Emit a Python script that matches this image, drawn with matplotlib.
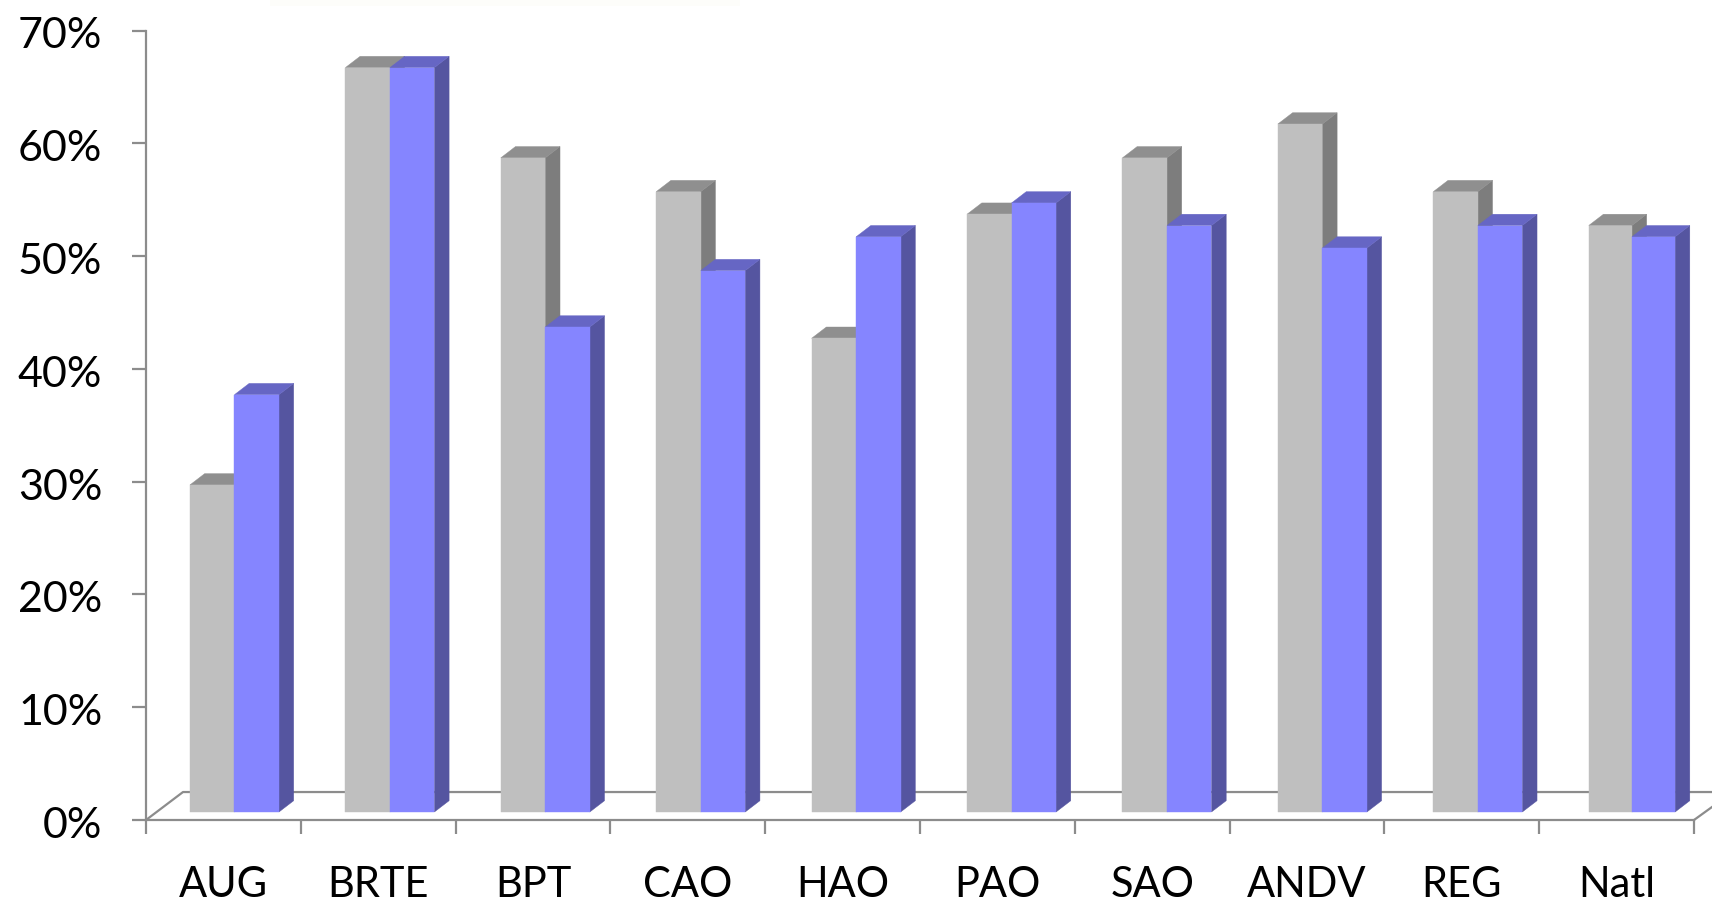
import matplotlib
matplotlib.use("Agg")
import matplotlib.pyplot as plt
from matplotlib.patches import Polygon, Rectangle
from matplotlib.transforms import ScaledTranslation

categories = ["AUG", "BRTE", "BPT", "CAO", "HAO", "PAO", "SAO", "ANDV", "REG", "Natl"]
grey_values = [29, 66, 58, 55, 42, 53, 58, 61, 55, 52]
blue_values = [37, 66, 43, 48, 51, 54, 52, 50, 52, 51]
y_ticks = [0, 10, 20, 30, 40, 50, 60, 70]

W, H = 1712, 901
AXIS_COLOR = "#8c8c8c"

# depth of the fake 3D, in data units
DEPTH_X = 0.095
DEPTH_Y = 1.0
BASE_X = 0.284
BASE_Y = 0.71
GROUP_STEP = 1.004
BAR_W = 0.2875


def draw_bar(ax, x, w, value, front, top, side):
    y0 = BASE_Y
    y1 = BASE_Y + value
    ax.add_patch(Polygon([(x + w, y0), (x + w + DEPTH_X, y0 + DEPTH_Y),
                          (x + w + DEPTH_X, y1 + DEPTH_Y), (x + w, y1)],
                         closed=True, facecolor=side, edgecolor=side, linewidth=0.3,
                         zorder=3, clip_on=False))
    ax.add_patch(Polygon([(x, y1), (x + w, y1),
                          (x + w + DEPTH_X, y1 + DEPTH_Y), (x + DEPTH_X, y1 + DEPTH_Y)],
                         closed=True, facecolor=top, edgecolor=top, linewidth=0.3,
                         zorder=3, clip_on=False))
    ax.bar(x, value, width=w, bottom=y0, align="edge", color=front, edgecolor=front,
           linewidth=0.3, zorder=3, clip_on=False)


plt.rcParams["font.family"] = ["Lato", "DejaVu Sans"]

fig = plt.figure(figsize=(W / 100, H / 100), dpi=100)
ax = fig.add_axes([146 / W, 1 - 820 / H, (1694 - 146) / W, (820 - 30.5) / H])
ax.set_xlim(0, 10)
ax.set_ylim(0, 70)

# floor of the 3D box
ax.plot([0, 0.239, 10.2], [0, 2.48, 2.48], color=AXIS_COLOR, lw=1.6, zorder=1, clip_on=False)
ax.plot([10, 10.116], [0, 1.15], color=AXIS_COLOR, lw=1.6, zorder=1, clip_on=False)

for i in range(len(categories)):
    x = BASE_X + i * GROUP_STEP
    # the last group is a touch narrower in the source
    w = BAR_W if i < len(categories) - 1 else 0.279
    draw_bar(ax, x, w, grey_values[i], "#bfbfbf", "#8f8f8f", "#7d7d7d")
    draw_bar(ax, x + w, w, blue_values[i], "#8585ff", "#6666c4", "#5555a0")

for s in ["top", "right"]:
    ax.spines[s].set_visible(False)
for s in ["left", "bottom"]:
    ax.spines[s].set_color(AXIS_COLOR)
    ax.spines[s].set_linewidth(1.6)

ax.set_yticks(y_ticks)
ax.set_yticklabels([f"{v}%" for v in y_ticks], fontsize=31)
ax.tick_params(axis="y", length=10, width=1.6, color=AXIS_COLOR, pad=21.5)
shift = ScaledTranslation(0, -2.5 / 100, fig.dpi_scale_trans)
for label in ax.get_yticklabels():
    label.set_transform(label.get_transform() + shift)

ax.set_xticks(range(11))
ax.set_xticklabels([])
ax.tick_params(axis="x", which="major", length=10, width=1.6, color=AXIS_COLOR)
ax.set_xticks([i + 0.5 for i in range(10)], minor=True)
ax.set_xticklabels(categories, minor=True, fontsize=30)
ax.tick_params(axis="x", which="minor", length=0, pad=33)

# faint smudge along the top edge of the source image
fig.add_artist(Rectangle((270 / W, 1 - 6 / H), 470 / W, 6 / H, transform=fig.transFigure,
                         facecolor="#fdfdfa", linewidth=0))

fig.savefig("out.png", dpi=100)
